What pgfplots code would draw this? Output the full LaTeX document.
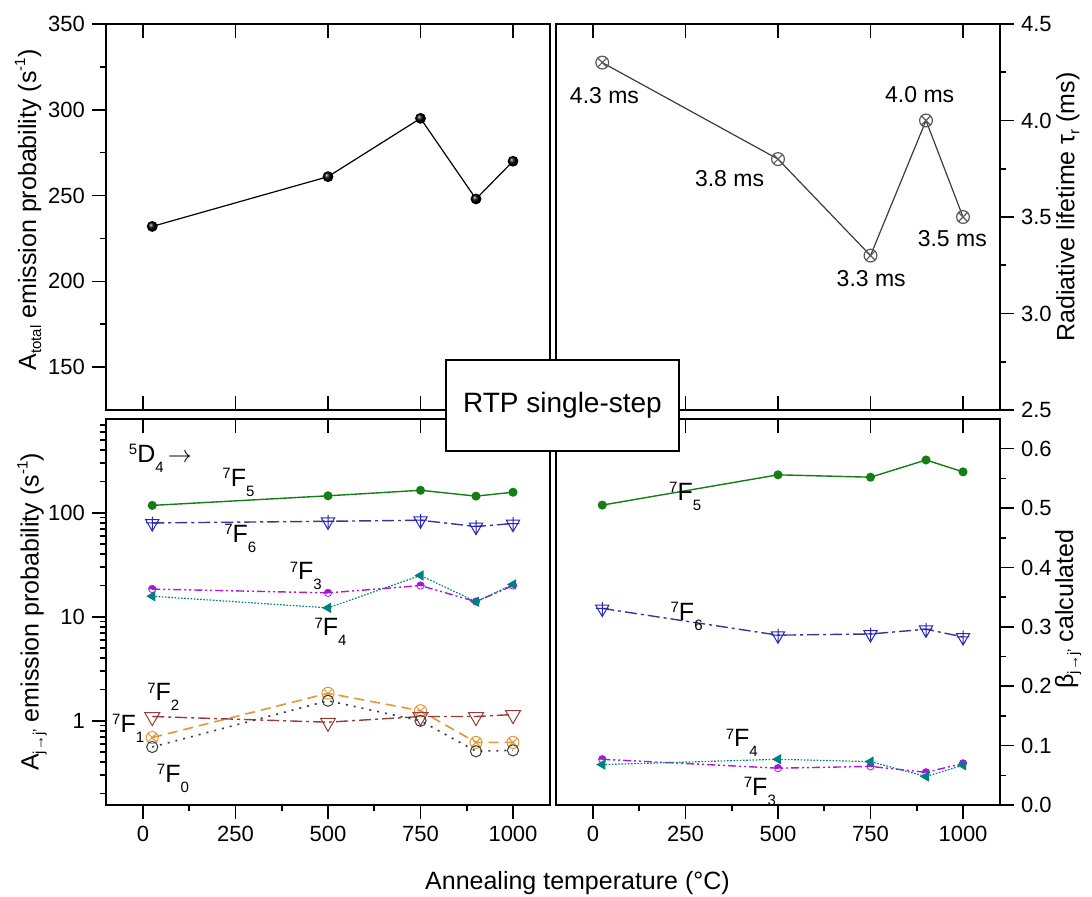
\documentclass[border=0pt]{standalone}
\usepackage{fontspec}
\setmainfont{Liberation Sans}
\usepackage{pgfplots}
\pgfplotsset{compat=1.18}
\usetikzlibrary{plotmarks}

\definecolor{cgreen}{RGB}{20,125,20}
\definecolor{cnavy}{RGB}{55,55,150}
\definecolor{cpurple}{RGB}{150,30,210}
\definecolor{cteal}{RGB}{0,128,128}
\definecolor{corange}{RGB}{230,150,50}
\definecolor{cdark}{RGB}{60,60,60}
\definecolor{cmaroon}{RGB}{150,60,60}
\definecolor{cgray}{RGB}{90,90,90}

\pgfdeclareplotmark{tridown}{%
  \pgfpathmoveto{\pgfqpoint{0pt}{-1.2\pgfplotmarksize}}%
  \pgfpathlineto{\pgfqpoint{0.98\pgfplotmarksize}{0.5\pgfplotmarksize}}%
  \pgfpathlineto{\pgfqpoint{-0.98\pgfplotmarksize}{0.5\pgfplotmarksize}}%
  \pgfpathclose
  \pgfusepathqstroke}
\pgfdeclareplotmark{tridownplus}{%
  \pgfpathmoveto{\pgfqpoint{0pt}{-1.2\pgfplotmarksize}}%
  \pgfpathlineto{\pgfqpoint{0.98\pgfplotmarksize}{0.5\pgfplotmarksize}}%
  \pgfpathlineto{\pgfqpoint{-0.98\pgfplotmarksize}{0.5\pgfplotmarksize}}%
  \pgfpathclose
  \pgfpathmoveto{\pgfqpoint{0pt}{-0.9\pgfplotmarksize}}%
  \pgfpathlineto{\pgfqpoint{0pt}{0.95\pgfplotmarksize}}%
  \pgfpathmoveto{\pgfqpoint{-0.95\pgfplotmarksize}{0pt}}%
  \pgfpathlineto{\pgfqpoint{0.95\pgfplotmarksize}{0pt}}%
  \pgfusepathqstroke}
\pgfdeclareplotmark{halftop}{%
  \pgfpathmoveto{\pgfqpoint{\pgfplotmarksize}{0pt}}%
  \pgfpatharc{0}{180}{\pgfplotmarksize}%
  \pgfpathclose
  \pgfusepathqfillstroke
  \pgfpathcircle{\pgfpointorigin}{\pgfplotmarksize}%
  \pgfusepathqstroke}

\newcommand{\tickfont}{\fontsize{11}{13}\selectfont}
\newcommand{\labfont}{\fontsize{12.5}{15}\selectfont}
\newcommand{\msfont}{\fontsize{11.5}{13}\selectfont}
\newcommand{\lsub}[1]{\raisebox{-2.5pt}{\fontsize{7.5}{8}\selectfont #1}}
\newcommand{\lsup}[1]{\raisebox{5.5pt}{\fontsize{7.5}{8}\selectfont #1}}
\newcommand{\lev}[3]{\raisebox{3.8pt}{\fontsize{7.5}{8}\selectfont #1}#2\raisebox{-5pt}{\fontsize{7.5}{8}\selectfont #3}}

\pgfplotsset{
  panel/.style={scale only axis, width=222pt, height=193pt,
    xmin=-100, xmax=1100, anchor=north west,
    axis line style={line width=0.9pt, -},
    every tick/.style={black, line width=0.8pt},
    major tick length=7pt, minor tick length=3.2pt,
    tick label style={font=\tickfont},
    /pgf/number format/assume math mode=true,
    clip=false},
}

\begin{document}
\begin{tikzpicture}
\useasboundingbox (0,0) rectangle (546pt,-448.5pt);

% ---------------- top left ----------------
\begin{axis}[panel, at={(53pt,-12pt)}, ymin=125, ymax=350,
  xtick={0,250,500,750,1000}, xticklabels={}, xtick pos=both,
  tick align=inside, ytick=\empty]
\addplot[black, line width=0.6pt, mark=ball, mark size=2.4pt, mark options={ball color=black}]
  coordinates {(25,232) (500,261) (750,295) (900,248) (1000,270)};
\end{axis}
\begin{axis}[panel, at={(53pt,-12pt)}, ymin=125, ymax=350,
  axis x line=none, axis y line*=left, tick align=outside,
  ytick={150,200,250,300,350}, yticklabels={150,200,250,300,350},
  minor ytick={175,225,275,325}]
\end{axis}

% ---------------- top right ----------------
\begin{axis}[panel, at={(278pt,-12pt)}, ymin=2.5, ymax=4.5,
  xtick={0,250,500,750,1000}, xticklabels={}, xtick pos=both,
  tick align=inside, ytick=\empty]
\addplot[cdark, line width=0.6pt, mark=otimes, mark size=3.2pt, mark options={draw=cgray, line width=0.6pt}]
  coordinates {(25,4.3) (500,3.8) (750,3.3) (900,4.0) (1000,3.5)};
\node[font=\msfont] at (axis cs:31,4.13) {4.3 ms};
\node[font=\msfont] at (axis cs:369,3.70) {3.8 ms};
\node[font=\msfont] at (axis cs:752,3.18) {3.3 ms};
\node[font=\msfont] at (axis cs:883,4.135) {4.0 ms};
\node[font=\msfont] at (axis cs:971,3.39) {3.5 ms};
\end{axis}
\begin{axis}[panel, at={(278pt,-12pt)}, ymin=2.5, ymax=4.5,
  axis x line=none, axis y line*=right, tick align=outside,
  ytick={2.5,3,3.5,4,4.5}, yticklabels={2.5,3.0,3.5,4.0,4.5},
  minor ytick={2.75,3.25,3.75,4.25}, yticklabel pos=right]
\end{axis}

% ---------------- bottom left ----------------
\begin{axis}[panel, at={(53pt,-209.5pt)}, ymode=log, ymin=0.155, ymax=800,
  tick align=outside, xtick pos=bottom, ytick pos=left,
  xtick={0,250,500,750,1000}, xticklabels={0,250,500,750,1000},
  minor xtick={125,375,625,875},
  ytick={1,10,100}, yticklabels={1,10,100},
  minor ytick={0.2,0.3,0.4,0.5,0.6,0.7,0.8,0.9,2,3,4,5,6,7,8,9,20,30,40,50,60,70,80,90,200,300,400,500,600,700}]
\addplot[cgreen, line width=0.7pt, mark=*, mark size=1.9pt]
  coordinates {(25,118) (500,146) (750,165) (900,145) (1000,158)};
\addplot[cnavy, line width=0.7pt, dash pattern=on 6pt off 2pt on 1.5pt off 2pt,
  mark=tridownplus, mark size=3.4pt, mark options={solid, draw=cnavy!70!blue, line width=0.5pt}]
  coordinates {(25,80) (500,83) (750,85) (900,74) (1000,79)};
\addplot[cpurple!75!magenta, line width=0.7pt, dash pattern=on 4pt off 1.5pt on 1pt off 1.5pt on 1pt off 1.5pt,
  mark=halftop, mark size=1.8pt, mark options={solid, fill=cpurple, draw=cpurple!70!magenta, line width=0.4pt}]
  coordinates {(25,18.5) (500,17) (750,20) (900,14) (1000,20)};
\addplot[cteal, line width=0.6pt, dash pattern=on 0.8pt off 0.8pt,
  mark=triangle*, mark size=2.4pt, mark options={solid, rotate=90}]
  coordinates {(25,15.8) (500,12.2) (750,25) (900,14) (1000,20.5)};
\addplot[corange, line width=0.8pt, dash pattern=on 5pt off 3pt,
  mark=otimes, mark size=3pt, mark options={solid, line width=0.5pt}]
  coordinates {(25,0.69) (500,1.84) (750,1.25) (900,0.62) (1000,0.62)};
\addplot[cmaroon, line width=0.7pt, dash pattern=on 6pt off 2pt on 1.5pt off 2pt,
  mark=tridown, mark size=3.8pt, mark options={solid, line width=0.5pt}]
  coordinates {(25,1.1) (500,0.97) (750,1.1) (900,1.1) (1000,1.15)};
\addplot[cdark, line width=0.8pt, dash pattern=on 1pt off 3pt,
  mark=o, mark size=2.8pt, mark options={solid, line width=0.5pt}]
  coordinates {(25,0.56) (500,1.56) (750,1.0) (900,0.51) (1000,0.52)};
\node[font=\labfont, anchor=base west] at (axis cs:-57,306) {\lev{5}{D}{4}\,$\rightarrow$};
\node[font=\labfont, anchor=base] at (axis cs:258,180) {\lev{7}{F}{5}};
\node[font=\labfont, anchor=base] at (axis cs:263,52) {\lev{7}{F}{6}};
\node[font=\labfont, anchor=base] at (axis cs:440,22.7) {\lev{7}{F}{3}};
\node[font=\labfont, anchor=base] at (axis cs:507,6.6) {\lev{7}{F}{4}};
\node[font=\labfont, anchor=base] at (axis cs:55,1.56) {\lev{7}{F}{2}};
\node[font=\labfont, anchor=base] at (axis cs:-40,0.775) {\lev{7}{F}{1}};
\node[font=\labfont, anchor=base] at (axis cs:81,0.256) {\lev{7}{F}{0}};
\end{axis}
\begin{axis}[panel, at={(53pt,-209.5pt)}, ymode=log, ymin=0.155, ymax=800,
  axis x line*=top, axis y line=none, tick align=inside,
  xtick={0,250,500,750,1000}, xticklabels={}]
\end{axis}

% ---------------- bottom right ----------------
\begin{axis}[panel, at={(278pt,-209.5pt)}, ymin=0, ymax=0.65,
  tick align=outside, xtick pos=bottom, ytick pos=right, yticklabel pos=right,
  xtick={0,250,500,750,1000}, xticklabels={0,250,500,750,1000},
  minor xtick={125,375,625,875},
  ytick={0,0.1,0.2,0.3,0.4,0.5,0.6}, yticklabels={0.0,0.1,0.2,0.3,0.4,0.5,0.6},
  minor ytick={0.05,0.15,0.25,0.35,0.45,0.55}]
\addplot[cgreen, line width=0.7pt, mark=*, mark size=1.9pt]
  coordinates {(25,0.505) (500,0.556) (750,0.552) (900,0.581) (1000,0.561)};
\addplot[cnavy, line width=0.7pt, dash pattern=on 6pt off 2pt on 1.5pt off 2pt,
  mark=tridownplus, mark size=3.4pt, mark options={solid, draw=cnavy!70!blue, line width=0.5pt}]
  coordinates {(25,0.331) (500,0.286) (750,0.288) (900,0.296) (1000,0.283)};
\addplot[cpurple!75!magenta, line width=0.7pt, dash pattern=on 4pt off 1.5pt on 1pt off 1.5pt on 1pt off 1.5pt,
  mark=halftop, mark size=1.8pt, mark options={solid, fill=cpurple, draw=cpurple!70!magenta, line width=0.4pt}]
  coordinates {(25,0.077) (500,0.062) (750,0.065) (900,0.055) (1000,0.070)};
\addplot[cteal, line width=0.6pt, dash pattern=on 0.8pt off 0.8pt,
  mark=triangle*, mark size=2.4pt, mark options={solid, rotate=90}]
  coordinates {(25,0.068) (500,0.077) (750,0.073) (900,0.048) (1000,0.067)};
\node[font=\labfont, anchor=base] at (axis cs:249,0.513) {\lev{7}{F}{5}};
\node[font=\labfont, anchor=base] at (axis cs:253,0.311) {\lev{7}{F}{6}};
\node[font=\labfont, anchor=base] at (axis cs:402,0.098) {\lev{7}{F}{4}};
\node[font=\labfont, anchor=base] at (axis cs:451,0.016) {\lev{7}{F}{3}};
\end{axis}
\begin{axis}[panel, at={(278pt,-209.5pt)}, ymin=0, ymax=0.65,
  axis x line*=top, axis y line=none, tick align=inside,
  xtick={0,250,500,750,1000}, xticklabels={}]
\end{axis}

% ---------------- labels ----------------
\node[rotate=90, font=\labfont] at (14pt,-105pt) {A\lsub{total} emission probability (s\lsup{-1})};
\node[rotate=90, font=\labfont] at (16pt,-306pt) {A\lsub{j→j'} emission probability (s\lsup{-1})};
\node[rotate=90, font=\labfont] at (534pt,-103.5pt) {Radiative lifetime τ\lsub{r} (ms)};
\node[rotate=90, font=\labfont] at (534pt,-304.5pt) {β\lsub{j→j'} calculated};
\node[font=\labfont] at (288.75pt,-441.5pt) {Annealing temperature (°C)};

\node[draw, line width=0.9pt, fill=white, minimum width=116.5pt, minimum height=45.5pt,
  inner sep=0pt, font=\fontsize{14}{16}\selectfont] at (281.25pt,-202.75pt) {RTP single-step};
\end{tikzpicture}
\end{document}
